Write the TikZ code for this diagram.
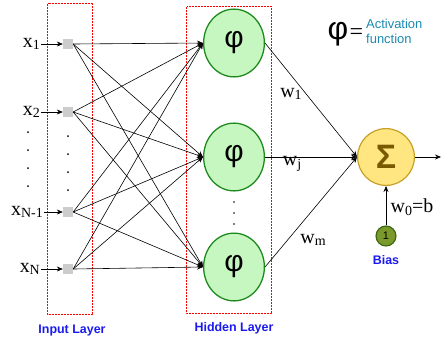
\documentclass[tikz,border=0pt]{standalone}
\usepackage{fontspec}
\setmainfont{Liberation Serif}
\setsansfont{Liberation Sans}
\usetikzlibrary{arrows.meta,positioning,shapes.geometric}
\definecolor{hidfill}{HTML}{C6F7C0}
\definecolor{hidline}{HTML}{1E8A1E}
\definecolor{sumfill}{HTML}{FFE680}
\definecolor{sumline}{HTML}{C8A028}
\definecolor{sumtext}{HTML}{7A5A00}
\definecolor{biasfill}{HTML}{7C9A2C}
\definecolor{biasline}{HTML}{3C6A10}
\definecolor{acttext}{HTML}{1A8AB0}
\definecolor{laytext}{HTML}{1A1AF0}
\definecolor{boxred}{HTML}{FF0000}
\newcommand{\lowidx}[1]{\raisebox{-0.3ex}{\fontsize{14}{14}\selectfont #1}}
\tikzset{
  inbox/.style={fill=black!20, minimum size=10, inner sep=0},
  hidnode/.style={ellipse, draw=hidline, line width=1.3, fill=hidfill, minimum width=61, minimum height=68, font=\sffamily\fontsize{30}{30}\selectfont},
  sumnode/.style={circle, draw=sumline, line width=1.2, fill=sumfill, minimum size=57, font=\sffamily\bfseries\fontsize{34}{34}\selectfont, text=sumtext},
  biasnode/.style={circle, draw=biasline, line width=1.2, fill=biasfill, minimum size=20, inner sep=0, font=\sffamily\fontsize{11}{11}\selectfont},
  xlabel/.style={anchor=east, inner sep=1, font=\fontsize{20}{20}\selectfont},
  wlabel/.style={font=\fontsize{20}{20}\selectfont},
  layer/.style={font=\sffamily\bfseries\fontsize{12.5}{12.5}\selectfont, text=laytext},
  layerbox/.style={draw=boxred, dash pattern=on 2bp off 1bp, line width=1},
  conn/.style={-{Stealth[length=6,width=5]}, line width=0.6}
}
\begin{document}
\begin{tikzpicture}[x=1bp, y=-1bp, line join=round]
\useasboundingbox (0,0) rectangle (445,340);
% layer boxes
\draw[layerbox] (47.5,3.5) rectangle (92.5,314.5);
\draw[layerbox] (186.5,6.5) rectangle (271.5,313.5);
\node[layer] (inlayer) at (72,330) {Input Layer};
\node[layer] (hidlayer) at (234,328) {Hidden Layer};
% input units
\node[inbox] (i1) at (68,44) {};
\node[inbox] (i2) at (68,112) {};
\node[inbox] (i3) at (68,212) {};
\node[inbox] (i4) at (68,269) {};
\node[xlabel] (x1) at (41,44) {x\lowidx{1}};
\node[xlabel] (x2) at (41,112) {x\lowidx{2}};
\node[xlabel] (x3) at (44,212) {x\lowidx{N-1}};
\node[xlabel] (x4) at (41,269) {x\lowidx{N}};
\foreach \i in {1,...,4}
  \draw[conn] (x\i) -- (i\i);
\foreach \y in {132,150,168,186}
  \fill (28,\y) circle (1);
\foreach \y in {136,154,172,190}
  \fill (68,\y) circle (1);
% hidden units
\node[hidnode] (h1) at (234,43) {φ};
\node[hidnode] (h2) at (234,157) {φ};
\node[hidnode] (h3) at (234,267) {φ};
\foreach \y in {202,213,224}
  \fill (234,\y) circle (0.8);
\foreach \i in {1,...,4}
  \foreach \j in {1,2,3}
    \draw[conn] (i\i.east) -- (h\j.west);
% output unit
\node[sumnode] (sum) at (386,157) {Σ};
\node[biasnode] (bias) at (386,236) {1};
\node[layer] (biaslabel) at (386,260) {Bias};
\coordinate (out) at (441,157);
\draw[conn] (h1.east) -- (sum.west);
\draw[conn] (h2.east) -- (sum.west);
\draw[conn] (h3.east) -- (sum.west);
\draw[conn] (sum.east) -- (out);
\draw[conn] (bias.north) -- (sum.south);
\node[wlabel] (w1) at (291,94) {w\lowidx{1}};
\node[wlabel] (wj) at (292,164) {w\lowidx{j}};
\node[wlabel] (wm) at (313,240) {w\lowidx{m}};
\node[wlabel] (w0) at (412,207) {w\lowidx{0}=b};
% legend
\node[font=\sffamily\fontsize{32}{32}\selectfont, inner sep=0] (phi) at (338,34) {φ};
\node[right=1 of phi, inner sep=0, font=\fontsize{24}{24}\selectfont] (eqsign) {=};
\node[anchor=west, align=left, inner sep=0, text=acttext, font=\sffamily\fontsize{13}{15}\selectfont] (actfun) at (366,31) {Activation\\function};
\end{tikzpicture}
\end{document}
